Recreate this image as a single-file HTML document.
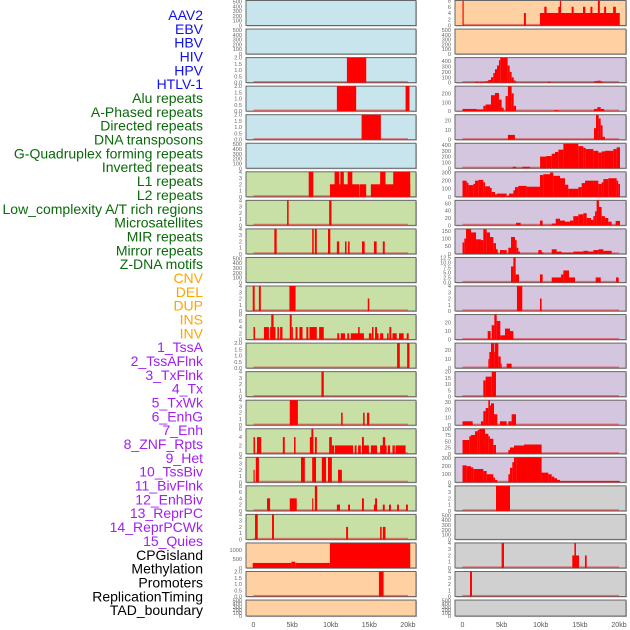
<!DOCTYPE html>
<html><head><meta charset="utf-8">
<style>
html,body{margin:0;padding:0;background:#fff;}
svg{display:block;font-family:"Liberation Sans",sans-serif;}
</style></head>
<body>
<svg id="chart" width="630" height="630" viewBox="0 0 630 630" xmlns="http://www.w3.org/2000/svg">
<g id="labels"></g>
<g id="panels"></g>
<g id="xaxes"></g>
</svg>
<script>
// ---- data ----
const trackNames = ["AAV2","EBV","HBV","HIV","HPV","HTLV-1","Alu repeats","A-Phased repeats","Directed repeats","DNA transposons","G-Quadruplex forming repeats","Inverted repeats","L1 repeats","L2 repeats","Low_complexity A/T rich regions","Microsatellites","MIR repeats","Mirror repeats","Z-DNA motifs","CNV","DEL","DUP","INS","INV","1_TssA","2_TssAFlnk","3_TxFlnk","4_Tx","5_TxWk","6_EnhG","7_Enh","8_ZNF_Rpts","9_Het","10_TssBiv","11_BivFlnk","12_EnhBiv","13_ReprPC","14_ReprPCWk","15_Quies","CPGisland","Methylation","Promoters","ReplicationTiming","TAD_boundary"];
const trackColors = [].concat(Array(6).fill("#1010f0"),Array(13).fill("#0a6a0a"),Array(5).fill("#ffa500"),Array(15).fill("#a020f0"),Array(5).fill("#000"));
const xTickKb = [0,5,10,15,20];
const xTickLabels = ["0","5kb","10kb","15kb","20kb"];
const emptyTicks = [0,100,200,300,400,500];
const ticksLeft = [emptyTicks,emptyTicks,[0,0.5,1,1.5,2],[0,0.5,1,1.5,2],[0,0.5,1,1.5,2],emptyTicks,[0,1,2,3,4],[0,1,2,3,4],[0,1,2,3,4],emptyTicks,[0,1,2,3,4],[0,2,4,6,8],[0,0.5,1,1.5,2],[0,1,2,3,4],[0,1,2,3,4],[0,2,4,6],[0,1,2,3,4],[0,2,4,6,8],[0,1,2,3,4],[0,500,1000],[0,0.5,1,1.5,2],emptyTicks];
const tickTextLeft = [null,null,["0.0","0.5","1.0","1.5","2.0"],["0.0","0.5","1.0","1.5","2.0"],["0.0","0.5","1.0","1.5","2.0"],null,null,null,null,null,null,null,["0.0","0.5","1.0","1.5","2.0"],null,null,null,null,null,null,null,["0.0","0.5","1.0","1.5","2.0"],null];
const maxLeft = [520,520,2,2,2,520,4,4,4,520,4,8,2,4,4,6,4,8,4,1400,2,520];
const ticksRight = [[0,2,4,6,8],emptyTicks,[0,100,200,300,400],[0,100,200],[0,10,20],[0,100,200,300,400],[0,100,200,300],[0,20,40,60],[0,50,100,150],[0,2.5,5,7.5,10,12.5],[0,1,2,3,4],[0,10,20],[0,10,20],[0,5,10,15,20],[0,10,20,30],[0,25,50,75,100],[0,100,200,300],[0,1,2,3,4],emptyTicks,[0,1,2,3,4],[0,1,2,3,4],emptyTicks];
const tickTextRight = [null,null,null,null,null,null,null,null,null,["0.0","2.5","5.0","7.5","10.0","12.5"],null,null,null,null,null,null,null,null,null,null,null,null];
const maxRight = [8,520,468,282,26,430,310,68,163,12.5,4,29.6,28,20,32,100,310,4,520,4,4,520];

// segments: [startKb, endKb, value]
const segL02 = [[12.1,14.6,2]];
const segL03 = [[10.8,13.3,2],[19.7,20.2,2]];
const segL04 = [[14.0,16.5,2]];
const segL06 = [[7.15,7.75,4],[9.9,13.7,2],[10.5,11.1,4],[11.25,11.7,4],[12.2,12.8,4],[13.75,14.6,2],[15.2,20.3,2],[16.4,17.1,4],[18.1,20.3,4]];
const segL07 = [[4.35,4.55,4],[9.8,10.1,4]];
const segL08 = [[2.7,3.0,4],[7.6,7.8,4],[7.95,8.2,4],[9.65,9.95,4],[10.8,11.1,2],[11.85,12.05,2],[12.25,12.45,2],[14.05,14.4,2],[15.6,15.95,2],[16.75,17.0,2]];
const segL10 = [[-0.1,0.15,4],[0.7,0.95,4],[4.65,5.45,4],[14.8,15.0,2]];
const segL11 = [[0,0.2,4],[1.35,2.0,4],[2.15,2.85,4],[2.3,2.6,8],[3.1,3.3,4],[3.45,3.75,4],[4.7,4.95,8],[4.95,5.1,4],[5.45,5.7,4],[5.95,6.35,4],[6.85,7.1,4],[7.25,8.2,4],[8.5,9.1,4],[10.85,11.1,2],[11.3,11.85,2],[12.15,12.4,2],[12.6,14.3,2],[13.55,13.75,4],[14.95,15.3,2],[15.35,15.55,4],[15.75,16.0,4],[15.75,16.2,2],[16.4,16.8,2],[17.3,17.5,2],[17.6,17.85,4],[18.0,18.55,2],[18.85,19.45,2],[19.85,20.1,2]];
const segL12 = [[18.6,18.95,2],[19.9,20.2,2]];
const segL13 = [[8.8,9.1,4]];
const segL14 = [[4.7,5.75,4],[11.35,11.55,2],[14.2,14.4,2],[14.7,15.0,2]];
const segL15 = [[0,0.2,4],[0.45,1.0,4],[3.8,4.05,4],[5.25,5.45,4],[7.3,7.75,4],[7.5,7.75,6],[7.95,8.2,4],[9.8,10.15,4],[10.15,10.45,2],[10.55,12.9,2],[13.1,13.35,2],[13.55,13.9,2],[14.05,14.95,2],[14.05,14.3,4],[15.2,16.0,2],[16.4,17.25,2],[16.75,17.05,4],[17.4,17.7,2],[18.0,18.3,2],[18.4,19.7,2]];
const segL16 = [[0,0.15,2],[0.3,0.7,4],[6.15,6.65,4],[7.6,8.1,4],[8.85,9.4,4],[9.65,10.15,4],[10.95,11.45,2]];
const segL17 = [[1.75,2.15,4],[4.7,5.6,4],[7.6,7.75,4],[7.95,8.25,8],[10.8,11.2,2],[12.25,12.5,2],[14.05,14.3,4],[15.6,16.0,2],[15.75,16.0,4],[16.75,17.0,2],[17.55,17.8,2],[18.6,18.85,2],[19.75,20.0,2]];
const segL18 = [[0.2,0.55,4],[2.4,2.65,4],[12.0,12.25,2],[16.4,16.6,2],[16.75,17.1,2]];
const segL19 = [[-0.1,4.9,280],[4.9,5.4,350],[5.4,9.9,280],[9.9,20.3,1400]];
const segL20 = [[16.25,16.85,2]];

const segR00 = [[0,0.15,8],[7.85,8.1,4],[9.9,20.1,4],[10.45,10.75,6],[12.25,12.5,6],[12.45,12.6,8],[13.95,14.2,6],[15.4,15.7,6],[16.35,16.6,6],[17.3,17.55,8],[18.1,18.35,6],[19.25,19.6,6]];
const segR02 = [[1.6,2.1,15],[2.24,2.96,15],[2.96,3.3,25],[3.3,3.64,50],[3.64,3.94,100],[3.94,4.15,180],[4.15,4.41,250],[4.41,4.66,320],[4.66,4.83,420],[4.83,5.77,470],[5.77,6.03,320],[6.03,6.28,200],[6.28,6.54,100],[6.54,6.79,40],[10.88,11.27,15],[16.8,17.23,25],[17.23,17.66,35],[17.66,17.9,20]];
const segR03 = [[0,1.8,25],[1.8,2.66,20],[2.66,2.96,60],[2.96,3.64,75],[3.64,4.15,180],[4.15,4.66,205],[4.66,5.0,130],[5.0,5.26,40],[5.5,5.8,170],[5.8,6.28,280],[6.28,6.54,200],[6.54,6.84,60],[11.7,12.33,10],[16.8,17.23,25],[17.23,17.66,45],[17.66,18.1,25]];
const segR04 = [[5.8,6.7,5],[16.8,17.06,12],[17.06,17.4,26],[17.4,17.66,22],[17.66,17.9,15],[17.9,18.2,3]];
const segR05 = [[6.41,6.84,25],[7.65,8.63,25],[9.91,10.68,200],[10.68,11.4,210],[11.4,11.82,250],[11.82,12.25,280],[12.25,12.89,320],[12.89,14.8,420],[14.8,15.44,380],[15.44,15.74,350],[15.74,16.72,330],[16.72,17.36,300],[17.36,17.78,270],[17.78,18.2,290],[18.2,19.27,300],[19.27,19.7,330],[19.7,20.13,360]];
const segR06 = [[0,0.53,200],[0.53,0.75,175],[0.75,1.38,145],[1.38,1.6,160],[1.6,2.02,200],[2.02,2.66,210],[2.66,2.88,180],[2.88,3.51,130],[3.51,3.73,110],[3.73,4.15,60],[4.15,4.37,30],[4.37,5.64,40],[5.64,5.94,10],[5.94,6.5,40],[6.5,6.71,80],[6.71,7.14,120],[7.14,8.2,135],[8.2,9.9,125],[9.9,10.33,270],[10.33,11.18,280],[11.18,11.61,300],[11.61,12.46,260],[12.46,13.1,230],[13.1,13.52,150],[13.52,14.8,100],[14.8,15.23,120],[15.23,15.66,170],[15.66,17.36,200],[17.36,17.78,160],[17.78,18.0,180],[18.0,18.63,220],[18.63,19.7,230],[19.7,19.9,200],[19.9,20.13,160]];
const segR07 = [[6.84,7.43,7],[9.9,10.24,13],[11.4,11.91,5],[11.91,12.46,18],[12.46,13.1,13],[13.1,13.74,10],[13.74,14.16,13],[14.16,14.8,25],[14.8,15.44,30],[15.44,15.87,33],[15.87,16.42,20],[16.42,16.72,15],[16.72,16.93,25],[16.93,17.14,38],[17.14,17.44,68],[17.44,17.78,50],[17.78,18.2,25],[18.2,18.63,20],[18.63,19.06,10],[19.57,20.13,12]];
const segR08 = [[0,0.23,75],[0.23,0.45,100],[0.45,1.09,165],[1.09,1.73,140],[1.73,2.36,95],[2.36,2.66,90],[2.66,3.09,160],[3.09,3.51,140],[3.51,3.94,110],[3.94,4.28,70],[4.28,4.5,30],[4.79,5.64,25],[5.86,6.2,40],[6.2,6.71,110],[6.71,6.92,90],[6.92,7.14,40],[7.14,7.35,15],[9.69,10.11,25],[10.11,10.33,10],[11.4,12.03,30],[12.03,12.67,15],[12.67,14.16,8],[14.16,15.44,15],[15.44,16.08,20],[16.08,16.72,15],[16.72,17.36,25],[17.36,18.0,30],[18.0,19.06,20]];
const segR09 = [[6.2,6.5,8],[6.5,6.79,12.5],[6.79,7.22,4],[9.9,10.24,4],[11.4,12.59,2.5],[12.59,12.89,4],[12.89,13.61,6],[13.61,14.38,2.5],[17.02,17.66,2.5],[19.62,19.96,2.5]];
const segR10 = [[6.96,7.64,4],[9.9,10.11,2]];
const segR11 = [[3.22,3.6,10],[3.73,4.07,17],[4.07,4.37,30],[4.37,4.83,22],[4.83,5.43,5],[5.43,6.07,13],[6.07,6.5,10]];
const segR12 = [[3.3,3.43,10],[3.43,3.64,18],[3.64,4.07,28],[4.07,4.15,18],[4.15,4.58,28],[4.58,4.88,13],[4.88,5.0,5],[5.64,6.28,5]];
const segR13 = [[2.66,2.96,13],[2.96,3.73,16],[3.73,4.28,20]];
const segR14 = [[0,1.3,5],[2.36,2.66,5],[2.66,2.96,18],[2.96,3.3,22],[3.3,3.51,32],[3.51,3.64,25],[3.64,4.03,28],[4.03,4.45,14],[4.79,5.64,5],[5.86,6.28,5],[6.28,6.84,14]];
const segR15 = [[0,0.87,55],[0.87,1.09,70],[1.09,1.6,75],[1.6,1.94,90],[1.94,2.15,95],[2.15,2.88,100],[2.88,3.3,80],[3.3,3.51,70],[3.51,3.94,60],[3.94,4.28,35],[5.86,6.07,15],[6.07,6.58,25],[6.58,7.86,33],[7.86,10.11,37]];
const segR16 = [[0,0.53,210],[0.53,1.09,200],[1.09,1.38,185],[1.38,2.66,165],[2.66,3.09,140],[3.09,3.94,100],[3.94,4.15,60],[4.15,4.45,30],[5.86,6.07,100],[6.07,6.37,180],[6.37,6.58,250],[6.58,6.92,330],[6.92,7.35,350],[7.35,10.11,380],[10.11,10.97,120],[10.97,11.4,100],[11.4,11.74,70],[11.74,12.08,50],[12.08,12.46,30],[12.46,20.13,15]];
const segR17 = [[4.28,6.07,4]];
const segR19 = [[5.0,5.3,4],[14.03,14.89,2],[14.3,14.5,4],[15.65,15.87,2]];
const segR20 = [[0.96,1.21,4]];

const segsLeft = [null,null,segL02,segL03,segL04,null,segL06,segL07,segL08,null,segL10,segL11,segL12,segL13,segL14,segL15,segL16,segL17,segL18,segL19,segL20,null];
const segsRight = [segR00,null,segR02,segR03,segR04,segR05,segR06,segR07,segR08,segR09,segR10,segR11,segR12,segR13,segR14,segR15,segR16,segR17,null,segR19,segR20,null];

// ---- drawing ----
const NS = "http://www.w3.org/2000/svg";
function mk(tag, attrs, parent){const e=document.createElementNS(NS,tag);for(const k in attrs)e.setAttribute(k,attrs[k]);parent.appendChild(e);return e;}
const labelsG=document.getElementById("labels"), panelsG=document.getElementById("panels"), xG=document.getElementById("xaxes");

trackNames.forEach((n,j)=>{
  const t=mk("text",{x:203,y:(20+j*13.84).toFixed(1),"text-anchor":"end","font-size":"14",fill:trackColors[j]},labelsG);
  t.textContent=n;
  
  
});

const cols=[
  {side:"left",px0:246,px1:416,x0:253.5,kbw:7.72,ticks:ticksLeft,tt:tickTextLeft,max:maxLeft,segs:segsLeft,bg:i=>i<6?"#c8e4ec":(i<19?"#c8e0a6":"#ffd0a2")},
  {side:"right",px0:455,px1:626,x0:462.5,kbw:7.825,ticks:ticksRight,tt:tickTextRight,max:maxRight,segs:segsRight,bg:i=>i<2?"#ffd0a2":(i<17?"#d5c6e0":"#d0d0d0")}
];
cols.forEach(c=>{
  const xs=kb=>c.x0+kb*c.kbw;
  for(let i=0;i<22;i++){
    const top=i*28.55+0.5, h=(i===21?16:25), bot=top+h;
    const g=mk("g",{},panelsG);
    
    
    mk("rect",{x:c.px0+1,y:top+1,width:c.px1-c.px0,height:h,fill:"#bbb"},g);
    mk("rect",{x:c.px0,y:top,width:c.px1-c.px0,height:h,fill:c.bg(i),stroke:"#666","stroke-width":1},g);
    const mx=c.max[i];
    const ys=v=>bot-Math.min(v,mx)/mx*h;
    c.ticks[i].forEach((v,k)=>{
      const t=mk("text",{x:c.px0-4,y:(ys(v)+2).toFixed(1),"text-anchor":"end","font-size":"5.6",fill:"#666"},g);
      t.textContent=c.tt[i]?c.tt[i][k]:String(v);
      
      
    });
    const s=c.segs[i];
    if(s){
      mk("rect",{x:xs(0),y:bot-1.6,width:xs(20)-xs(0),height:1.6,fill:"rgba(225,40,40,0.55)"},g);
      s.forEach(d=>{
        const r=mk("rect",{x:xs(d[0]).toFixed(2),y:ys(d[2]).toFixed(2),width:Math.max(1,xs(d[1])-xs(d[0])).toFixed(2),height:(bot-ys(d[2])).toFixed(2),fill:"#ff0000"},g);
        
        
      });
    }
  }
  xTickKb.forEach((kb,k)=>{
    const t=mk("text",{x:xs(kb),y:627,"text-anchor":"middle","font-size":"7",fill:"#555"},xG);
    t.textContent=xTickLabels[k];
    
    
  });
});
</script>
</body></html>
